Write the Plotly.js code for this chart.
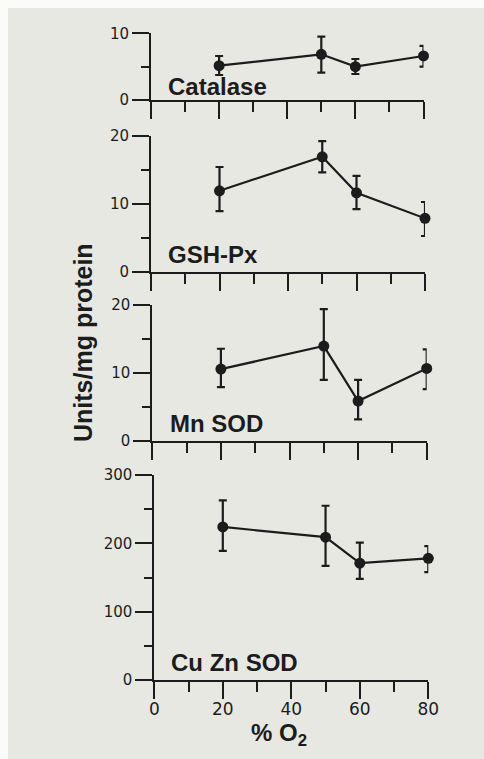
<!DOCTYPE html>
<html>
<head>
<meta charset="utf-8">
<script src="https://cdn.plot.ly/plotly-3.0.1.min.js"></script>
<style>
  html, body { margin: 0; padding: 0; background: #fbfbfa; width: 484px; height: 759px; overflow: hidden; }
  #chart { position: absolute; left: 8px; top: 8px; width: 476px; height: 751px; }
</style>
</head>
<body>
<div id="chart"></div>
<script>
// ---- data ----
const oxygen = [20, 50, 60, 80];            // % O2

const catalaseMean  = [5.15, 6.85, 5.0, 6.6];
const catalasePlus  = [1.45, 2.65, 1.15, 1.5];
const catalaseMinus = [1.4, 2.75, 1.1, 1.6];

const gshpxMean  = [11.9, 16.9, 11.6, 7.85];
const gshpxPlus  = [3.5, 2.3, 2.5, 2.4];
const gshpxMinus = [3.0, 2.3, 2.4, 2.6];

const mnsodMean  = [10.55, 13.95, 5.85, 10.65];
const mnsodPlus  = [3.0, 5.45, 3.1, 2.8];
const mnsodMinus = [2.65, 5.0, 2.7, 3.05];

const cuznsodMean  = [224, 209, 171, 178];
const cuznsodPlus  = [39, 46, 30, 18];
const cuznsodMinus = [35, 42, 23, 20];

const panelNames = ['Catalase', 'GSH-Px', 'Mn SOD', 'Cu Zn SOD'];
const xTickVals = [0, 20, 40, 60, 80];
const xTickText = ['0', '20', '40', '60', '80'];
const xTitle = '% O<sub>2</sub>';
const yTitle = 'Units/mg protein';

// ---- layout helpers ----
const W = 476, H = 751, OX = 8, OY = 8;
const px = v => (v - OX) / W;
const py = v => 1 - (v - OY) / H;

const ink = '#1c1c1c';
const bg = '#e8e8e3';

function trace(mean, plus, minus, i) {
  return {
    x: oxygen, y: mean,
    xaxis: i === 1 ? 'x' : 'x' + i,
    yaxis: i === 1 ? 'y' : 'y' + i,
    type: 'scatter', mode: 'lines+markers',
    line: {color: ink, width: 2.2},
    marker: {color: ink, size: 11},
    error_y: {type: 'data', symmetric: false, array: plus, arrayminus: minus,
              color: ink, thickness: 2.2, width: 4},
    showlegend: false, hoverinfo: 'skip', cliponaxis: false
  };
}

const data = [
  trace(catalaseMean, catalasePlus, catalaseMinus, 1),
  trace(gshpxMean, gshpxPlus, gshpxMinus, 2),
  trace(mnsodMean, mnsodPlus, mnsodMinus, 3),
  trace(cuznsodMean, cuznsodPlus, cuznsodMinus, 4)
];

function xax(x0, x1, anchor, labels) {
  return {
    domain: [px(x0), px(x1)], anchor: anchor, range: [0, 80],
    showgrid: false, zeroline: false, showline: true, linecolor: ink, linewidth: 2,
    ticks: 'outside', ticklen: 17, tickwidth: 2, tickcolor: ink,
    tickvals: xTickVals, ticktext: xTickText, showticklabels: labels,
    ticklabelstandoff: -4,
    tickfont: {family: 'DejaVu Sans', size: 17, color: ink},
    minor: {dtick: 10, tick0: 0, ticks: 'outside', ticklen: 10, tickwidth: 2, tickcolor: ink, showgrid: false},
    fixedrange: true
  };
}
function yax(yBottom, yTop, anchor, top, dtick) {
  return {
    domain: [py(yBottom), py(yTop)], anchor: anchor, range: [0, top],
    showgrid: false, zeroline: false, showline: true, linecolor: ink, linewidth: 2,
    ticks: 'outside', ticklen: 17, tickwidth: 2, tickcolor: ink,
    dtick: dtick, tick0: 0,
    tickfont: {family: 'DejaVu Sans', size: 15, color: ink},
    minor: {dtick: dtick / 2, tick0: 0, ticks: 'outside', ticklen: 8, tickwidth: 2, tickcolor: ink, showgrid: false},
    fixedrange: true
  };
}

function label(text, xpx, ypx) {
  return {text: text, xref: 'paper', yref: 'paper', x: px(xpx), y: py(ypx),
          xanchor: 'left', yanchor: 'middle', showarrow: false,
          font: {family: 'Liberation Sans, Arial, sans-serif', size: 24, color: ink, weight: 'bold'}};
}

const layout = {
  width: W, height: H,
  margin: {l: 0, r: 0, t: 0, b: 0},
  paper_bgcolor: bg, plot_bgcolor: 'rgba(0,0,0,0)',
  xaxis:  xax(151, 423.5, 'y', false),
  yaxis:  yax(100, 33.3, 'x', 10, 10),
  xaxis2: xax(151, 425, 'y2', false),
  yaxis2: yax(271.7, 135.7, 'x2', 20, 10),
  xaxis3: xax(152.3, 426.7, 'y3', false),
  yaxis3: yax(440.7, 305, 'x3', 20, 10),
  xaxis4: xax(154.3, 428.3, 'y4', true),
  yaxis4: yax(680, 475, 'x4', 300, 100),
  annotations: [
    label(panelNames[0], 165.5, 87),
    label(panelNames[1], 166, 254.5),
    label(panelNames[2], 168, 423),
    label(panelNames[3], 169, 662),
    {text: xTitle, xref: 'paper', yref: 'paper', x: px(279), y: py(734),
     xanchor: 'center', yanchor: 'middle', showarrow: false,
     font: {family: 'Liberation Sans, Arial, sans-serif', size: 24, color: ink, weight: 'bold'}},
    {text: yTitle, xref: 'paper', yref: 'paper', x: px(83), y: py(343),
     xanchor: 'center', yanchor: 'middle', textangle: -90, showarrow: false,
     font: {family: 'Liberation Sans, Arial, sans-serif', size: 25, color: ink, weight: 'bold'}}
  ]
};

Plotly.newPlot('chart', data, layout, {displayModeBar: false, staticPlot: true});
</script>
</body>
</html>
